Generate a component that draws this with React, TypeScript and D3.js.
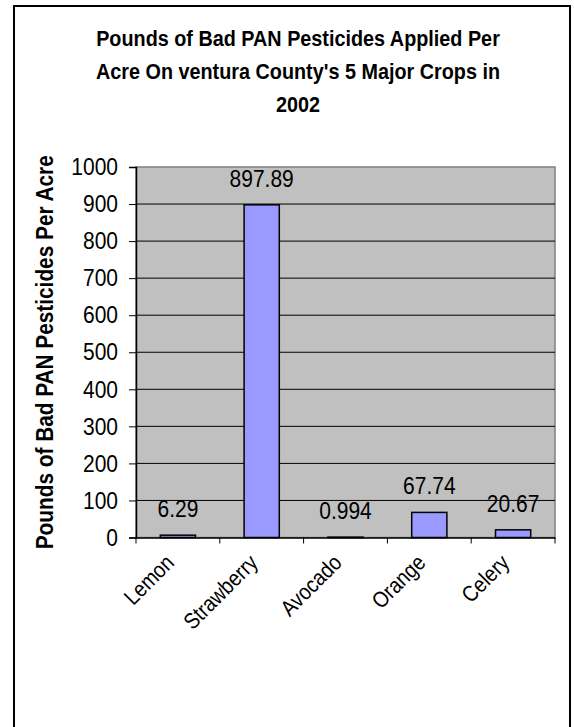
import React, { useEffect, useRef } from 'react';
import * as d3 from 'd3';

const crops = ['Lemon', 'Strawberry', 'Avocado', 'Orange', 'Celery'];
const pounds = [6.29, 897.89, 0.994, 67.74, 20.67];
const valueLabels = ['6.29', '897.89', '0.994', '67.74', '20.67'];
const yTicks = [0, 100, 200, 300, 400, 500, 600, 700, 800, 900, 1000];
const titleLines = [
  'Pounds of Bad PAN Pesticides Applied Per',
  "Acre On ventura County's 5 Major Crops in",
  '2002',
];
const yTitle = 'Pounds of Bad PAN Pesticides Per Acre';

const App: React.FC = () => {
  const svgRef = useRef<SVGSVGElement>(null);

  useEffect(() => {
    if (!svgRef.current) return;
    const svg = d3.select(svgRef.current);
    svg.selectAll('*').remove();

    const font = 'Arial, "Liberation Sans", sans-serif';
    const plot = { left: 136, right: 555, top: 167, bottom: 537.5 };
    // the source picture's text is a bit taller than wide
    const stretch = 1.15;

    // outer frame
    svg.append('rect')
      .attr('x', 14).attr('y', 6)
      .attr('width', 556).attr('height', 740)
      .attr('fill', '#fff').attr('stroke', '#000').attr('stroke-width', 2);

    // title
    titleLines.forEach((t, i) => {
      svg.append('text')
        .attr('transform', `translate(298,${46 + i * 33}) scale(1,1.12)`)
        .attr('font-family', font).attr('font-weight', 'bold')
        .attr('font-size', 19.8).attr('text-anchor', 'middle')
        .text(t);
    });

    const x = d3.scaleBand<string>().domain(crops).range([plot.left, plot.right]);
    const y = d3.scaleLinear().domain([0, 1000]).range([plot.bottom, plot.top]);
    const barW = x.bandwidth() * 0.42;

    // plot area
    svg.append('rect')
      .attr('x', plot.left).attr('y', plot.top)
      .attr('width', plot.right - plot.left).attr('height', plot.bottom - plot.top)
      .attr('fill', '#c0c0c0').attr('stroke', '#808080').attr('stroke-width', 1.5);

    // gridlines
    svg.append('g').selectAll('line')
      .data(yTicks.filter(d => d > 0 && d < 1000))
      .enter().append('line')
      .attr('x1', plot.left).attr('x2', plot.right)
      .attr('y1', d => y(d)).attr('y2', d => y(d))
      .attr('stroke', '#000').attr('stroke-width', 1);

    // bars
    svg.append('g').selectAll('rect')
      .data(pounds)
      .enter().append('rect')
      .attr('x', (_, i) => x(crops[i])! + (x.bandwidth() - barW) / 2)
      .attr('y', d => y(d))
      .attr('width', barW)
      .attr('height', d => plot.bottom - y(d))
      .attr('fill', '#9999ff').attr('stroke', '#000').attr('stroke-width', 1.5);

    // value labels
    svg.append('g').selectAll('text')
      .data(pounds)
      .enter().append('text')
      .attr('transform', (d, i) =>
        `translate(${x(crops[i])! + x.bandwidth() / 2},${y(d) - 18}) scale(1,${stretch})`)
      .attr('text-anchor', 'middle')
      .attr('font-family', font).attr('font-size', 21)
      .text((_, i) => valueLabels[i]);

    // y axis
    const yAxis = svg.append('g')
      .attr('transform', `translate(${plot.left},0)`)
      .call(d3.axisLeft(y).tickValues(yTicks).tickSize(7).tickPadding(11).tickFormat(d3.format('d')));
    yAxis.select('.domain').attr('stroke', '#000').attr('stroke-width', 1.5);
    yAxis.selectAll('line').attr('stroke', '#000');
    yAxis.selectAll('text')
      .attr('transform', `scale(1,${stretch})`)
      .attr('font-family', font).attr('font-size', 21).attr('fill', '#000');

    // x axis
    const xAxis = svg.append('g')
      .attr('transform', `translate(0,${plot.bottom})`)
      .call(d3.axisBottom(x).tickSize(0).tickFormat(() => ''));
    xAxis.select('.domain').attr('stroke', '#000').attr('stroke-width', 1.5);
    xAxis.selectAll('.tick').remove();
    const edges = crops.map(c => x(c)!).concat([plot.right]);
    xAxis.selectAll('line.edge')
      .data(edges)
      .enter().append('line')
      .attr('class', 'edge')
      .attr('x1', d => d).attr('x2', d => d)
      .attr('y1', 0).attr('y2', 6)
      .attr('stroke', '#000');

    svg.append('g').selectAll('text')
      .data(crops)
      .enter().append('text')
      .attr('transform', d => `translate(${x(d)! + x.bandwidth() / 2 - 8},${plot.bottom + 21}) rotate(-45) scale(1,${stretch})`)
      .attr('text-anchor', 'end')
      .attr('dy', '0.35em')
      .attr('font-family', font).attr('font-size', 19.5)
      .text(d => d);

    // y axis title
    svg.append('text')
      .attr('transform', `translate(53,${(plot.top + plot.bottom) / 2}) rotate(-90) scale(1,1.12)`)
      .attr('text-anchor', 'middle')
      .attr('font-family', font).attr('font-weight', 'bold').attr('font-size', 20.8)
      .text(yTitle);
  }, []);

  return (
    <svg
      ref={svgRef}
      width={574}
      height={727}
      style={{ position: 'absolute', left: 0, top: 0, background: '#fff' }}
    />
  );
};

export default App;
